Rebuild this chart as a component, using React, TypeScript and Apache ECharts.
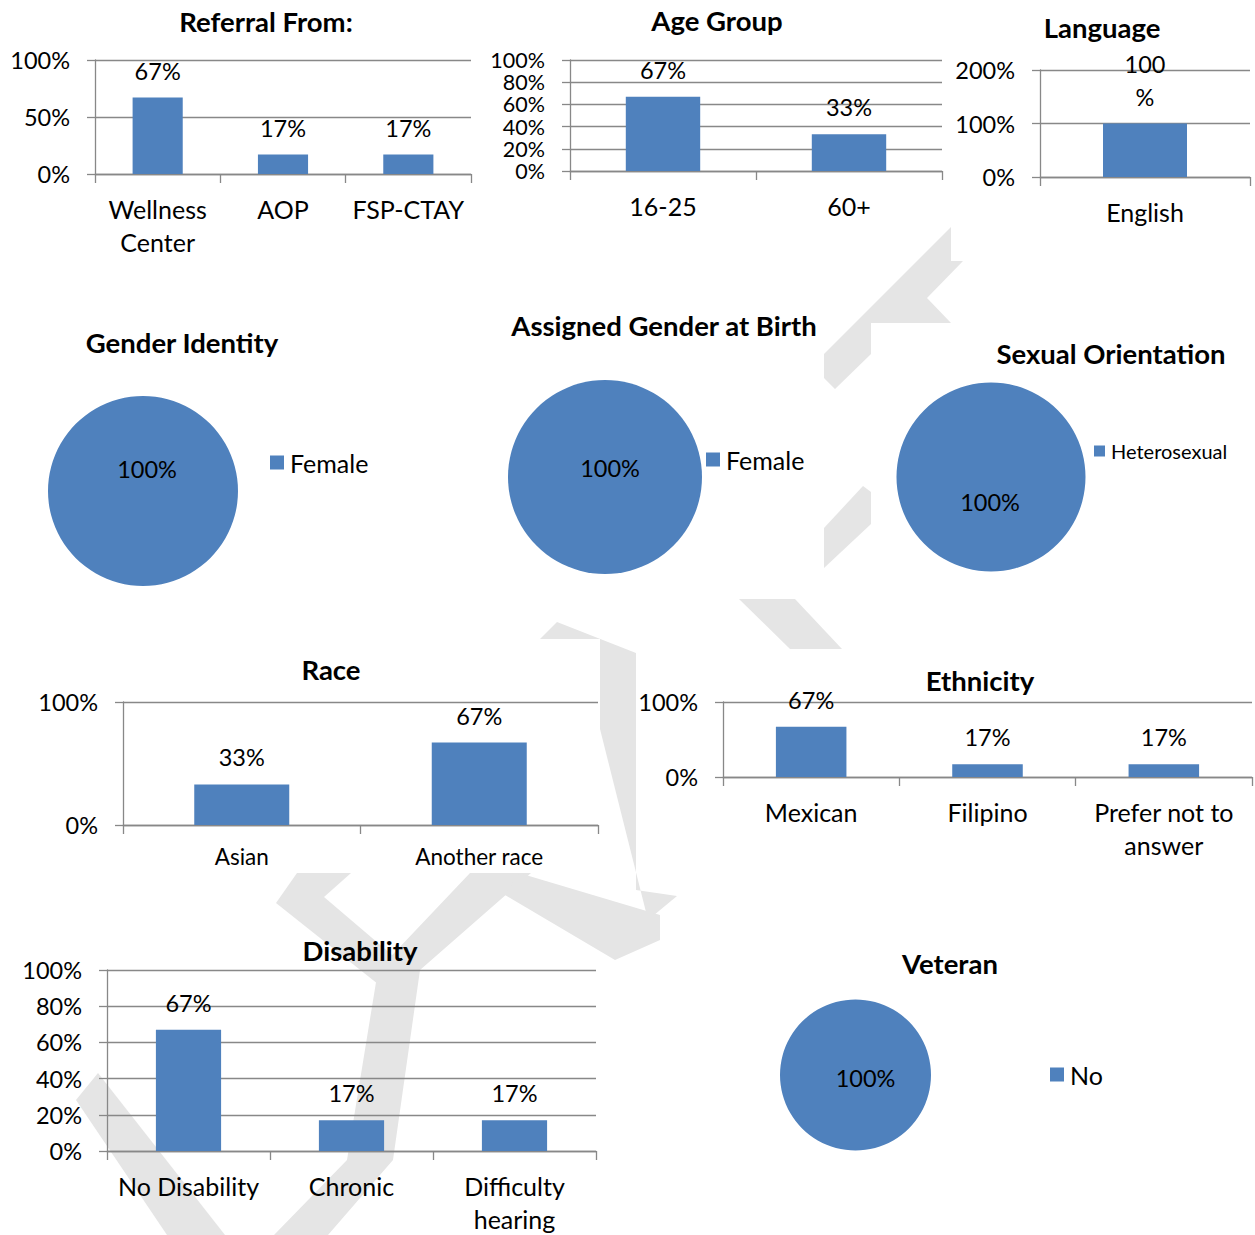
import React, { useEffect, useRef } from "react";
import * as echarts from "echarts";

// ---------- data ----------
const referralCats = ["Wellness\nCenter", "AOP", "FSP-CTAY"];
const referralVals = [67, 17, 17];
const ageCats = ["16-25", "60+"];
const ageVals = [67, 33];
const languageCats = ["English"];
const languageVals = [100];
const raceCats = ["Asian", "Another race"];
const raceVals = [33, 67];
const ethnicityCats = ["Mexican", "Filipino", "Prefer not to\nanswer"];
const ethnicityVals = [67, 17, 17];
const disabilityCats = ["No Disability", "Chronic", "Difficulty\nhearing"];
const disabilityVals = [67, 17, 17];

const genderIdentity = [{ name: "Female", value: 100 }];
const assignedGender = [{ name: "Female", value: 100 }];
const sexualOrientation = [{ name: "Heterosexual", value: 100 }];
const veteran = [{ name: "No", value: 100 }];

// y tick settings: [max, interval]
const referralTicks = [100, 50];
const ageTicks = [100, 20];
const languageTicks = [200, 100];
const raceTicks = [100, 100];
const ethnicityTicks = [100, 100];
const disabilityTicks = [100, 20];

const FONT = "Lato";
const BLUE = "#4F81BD";
const GRAY = "#888888";
const NUM_SIZE = 23.5;
const CAT_SIZE = 25;
const TITLE_SIZE = 27.5;

type BarChart = {
  title: string;
  tx: number;
  ty: number;
  cats: string[];
  vals: number[];
  ticks: number[];
  grid: { left: number; top: number; width: number; height: number };
  xFont?: number;
  xLine?: number;
  xMargin?: number;
  yFont?: number;
  yLine?: number;
  wrapPct?: boolean;
};

const barCharts: BarChart[] = [
  { title: "Referral From:", tx: 266, ty: 21, cats: referralCats, vals: referralVals, ticks: referralTicks, grid: { left: 95, top: 60, width: 376, height: 114 } },
  { title: "Age Group", tx: 717, ty: 20, cats: ageCats, vals: ageVals, ticks: ageTicks, grid: { left: 570, top: 60, width: 372, height: 111 }, yFont: 21.5, yLine: 20 },
  { title: "Language", tx: 1102, ty: 27, cats: languageCats, vals: languageVals, ticks: languageTicks, grid: { left: 1040, top: 70, width: 210, height: 107 }, wrapPct: true },
  { title: "Race", tx: 331, ty: 669, cats: raceCats, vals: raceVals, ticks: raceTicks, grid: { left: 123, top: 702, width: 475, height: 123 }, xFont: 22.5, xLine: 30, xMargin: 16 },
  { title: "Ethnicity", tx: 980, ty: 680, cats: ethnicityCats, vals: ethnicityVals, ticks: ethnicityTicks, grid: { left: 723, top: 702, width: 529, height: 75 } },
  { title: "Disability", tx: 360, ty: 950, cats: disabilityCats, vals: disabilityVals, ticks: disabilityTicks, grid: { left: 107, top: 970, width: 489, height: 184 }, yLine: 30 },
];

type PieChart = {
  title: string;
  tx: number;
  ty: number;
  data: { name: string; value: number }[];
  center: number[];
  radius: number;
  labelShift: number[];
  legend: { left: number; top: number; font: number; icon: number };
};

const pieCharts: PieChart[] = [
  { title: "Gender Identity", tx: 182, ty: 342, data: genderIdentity, center: [143, 491], radius: 95, labelShift: [4, -22], legend: { left: 270, top: 450, font: CAT_SIZE, icon: 14 } },
  { title: "Assigned Gender at Birth", tx: 664, ty: 325, data: assignedGender, center: [605, 477], radius: 97, labelShift: [5, -9], legend: { left: 706, top: 447, font: CAT_SIZE, icon: 14 } },
  { title: "Sexual Orientation", tx: 1111, ty: 353, data: sexualOrientation, center: [991, 477], radius: 94.5, labelShift: [-1, 25], legend: { left: 1094, top: 441, font: 20, icon: 11 } },
  { title: "Veteran", tx: 950, ty: 963, data: veteran, center: [855.5, 1075], radius: 75.5, labelShift: [10, 3], legend: { left: 1050, top: 1062, font: CAT_SIZE, icon: 14 } },
];

// light-gray watermark shapes
const watermark: number[][][] = [
  [[824, 354], [951, 227], [951, 261], [963, 261], [927, 298], [951, 323], [871, 323], [871, 354], [835, 389], [824, 378]],
  [[824, 528], [863, 486], [871, 492], [871, 524], [824, 568]],
  [[739, 599], [795, 599], [842, 649], [790, 649]],
  [[540, 639], [557, 622], [636, 653], [636, 890], [677, 896], [648, 920], [600, 729], [600, 639]],
  [[276, 903], [297, 873], [351, 873], [324, 897], [412, 972], [388, 992]],
  [[470, 873], [531, 873], [420, 970], [393, 1160], [328, 1235], [274, 1235], [347, 1160], [378, 970]],
  [[505, 895], [519, 873], [660, 915], [660, 940], [615, 960]],
  [[76, 1100], [98, 1073], [225, 1235], [167, 1235]],
];

function buildOption() {
  const title: any[] = [];
  const grid: any[] = [];
  const xAxis: any[] = [];
  const yAxis: any[] = [];
  const series: any[] = [];
  const legend: any[] = [];

  const titleOf = (text: string, x: number, y: number) => ({
    text,
    left: x,
    top: y,
    textAlign: "center",
    textVerticalAlign: "middle",
    padding: 0,
    textStyle: { fontFamily: FONT, fontWeight: "bold", fontSize: TITLE_SIZE, color: "#000" },
  });

  barCharts.forEach((c, i) => {
    title.push(titleOf(c.title, c.tx, c.ty));
    grid.push({ ...c.grid, containLabel: false });
    xAxis.push({
      type: "category",
      gridIndex: i,
      data: c.cats,
      axisLine: { show: true, lineStyle: { color: GRAY, width: 1.3 } },
      axisTick: { show: true, length: 9, alignWithLabel: false, lineStyle: { color: GRAY, width: 1.3 } },
      axisLabel: {
        interval: 0,
        hideOverlap: false,
        color: "#000",
        fontFamily: FONT,
        fontSize: c.xFont || CAT_SIZE,
        lineHeight: c.xLine || 33,
        margin: c.xMargin || 18,
      },
    });
    yAxis.push({
      type: "value",
      gridIndex: i,
      min: 0,
      max: c.ticks[0],
      interval: c.ticks[1],
      axisLine: { show: true, lineStyle: { color: GRAY, width: 1.3 } },
      axisTick: { show: true, length: 8, lineStyle: { color: GRAY, width: 1.3 } },
      splitLine: { show: true, lineStyle: { color: GRAY, width: 1.3 } },
      axisLabel: {
        showMinLabel: true,
        showMaxLabel: true,
        hideOverlap: false,
        color: "#000",
        fontFamily: FONT,
        fontSize: c.yFont || NUM_SIZE,
        lineHeight: c.yLine || 28,
        margin: 25,
        formatter: "{value}%",
      },
    });
    series.push({
      type: "bar",
      xAxisIndex: i,
      yAxisIndex: i,
      data: c.vals,
      barWidth: "40%",
      itemStyle: { color: BLUE },
      label: {
        show: true,
        position: "top",
        distance: 10.5,
        color: "#000",
        fontFamily: FONT,
        fontSize: NUM_SIZE,
        lineHeight: 33,
        formatter: c.wrapPct ? (p: any) => `${p.value}\n%` : (p: any) => `${p.value}%`,
      },
    });
  });

  pieCharts.forEach((p) => {
    title.push(titleOf(p.title, p.tx, p.ty));
    series.push({
      type: "pie",
      center: p.center,
      radius: p.radius,
      startAngle: 90,
      data: p.data,
      itemStyle: { color: BLUE, borderWidth: 0 },
      emphasis: { disabled: true },
      label: {
        show: true,
        position: "center",
        formatter: "{d}%",
        color: "#000",
        fontFamily: FONT,
        fontSize: NUM_SIZE,
      },
      labelLayout: { dx: p.labelShift[0], dy: p.labelShift[1] },
      labelLine: { show: false },
    });
    legend.push({
      left: p.legend.left,
      top: p.legend.top,
      padding: 0,
      orient: "vertical",
      data: p.data.map((d) => d.name),
      icon: "rect",
      itemWidth: p.legend.icon,
      itemHeight: p.legend.icon,
      selectedMode: false,
      textStyle: { fontFamily: FONT, fontSize: p.legend.font, color: "#000", padding: [0, 0, 0, 1] },
    });
  });

  const graphic = watermark.map((pts) => ({
    type: "polygon",
    z: -10,
    silent: true,
    shape: { points: pts },
    style: { fill: "#e5e5e5" },
  }));

  return {
    animation: false,
    backgroundColor: "#ffffff",
    color: [BLUE],
    textStyle: { fontFamily: FONT },
    title,
    grid,
    xAxis,
    yAxis,
    series,
    legend,
    graphic: { elements: graphic },
  };
}

export default function App() {
  const ref = useRef<HTMLDivElement>(null);
  useEffect(() => {
    if (!ref.current) return;
    const chart = echarts.init(ref.current, undefined, { renderer: "svg" });
    chart.setOption(buildOption() as any);
    return () => chart.dispose();
  }, []);
  return (
    <div
      ref={ref}
      style={{ position: "absolute", left: 0, top: 0, width: 1255, height: 1235, background: "#fff" }}
    />
  );
}
